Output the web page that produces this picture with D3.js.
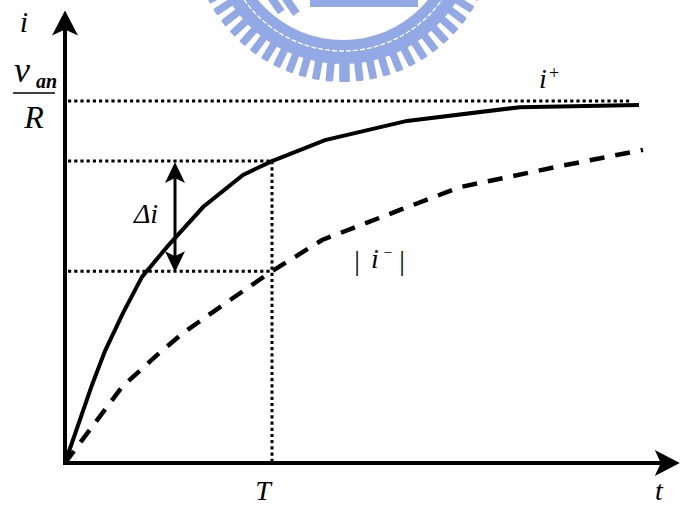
<!DOCTYPE html>
<html>
<head>
<meta charset="utf-8">
<script src="https://cdn.jsdelivr.net/npm/d3@7"></script>
<style>
  html, body { margin: 0; padding: 0; background: #fff; }
  svg { display: block; }
</style>
</head>
<body>
<svg id="chart" width="680" height="508"></svg>
<script>
// Normalised time (switching period T = 1) and current (v_an / R = 1)
const tPlus  = [0, 0.130, 0.193, 0.280, 0.372, 0.493, 0.667, 0.860, 1.000, 1.256, 1.652, 2.198, 2.773];
const iPlus  = [0, 0.215, 0.309, 0.414, 0.514, 0.597, 0.707, 0.796, 0.834, 0.892, 0.945, 0.983, 0.989];
const tMinus = [0, 0.275, 0.444, 0.570, 0.797, 1.000, 1.242, 1.618, 1.908, 2.391, 2.792];
const iMinus = [0, 0.210, 0.298, 0.359, 0.450, 0.530, 0.616, 0.699, 0.762, 0.820, 0.865];
const periodT = 1;       // T
const steadyI = 1;       // v_an / R
const tEnd = 2.97;       // end of the t axis
const iEnd = 1.25;       // end of the i axis

const SERIF = "Liberation Serif";

const svg = d3.select("#chart");

const x = d3.scaleLinear().domain([0, 1]).range([65, 272]);
const y = d3.scaleLinear().domain([0, 1]).range([463, 101]);

// ---- faint seal in the background ----
const defs = svg.append("defs");
defs.append("filter").attr("id", "soft")
  .append("feGaussianBlur").attr("stdDeviation", 0.7);

const seal = svg.append("g").attr("fill", "#93a9e6").attr("filter", "url(#soft)")
  .attr("transform", "translate(343,-70)");
seal.append("path")
  .attr("d", d3.arc()({ innerRadius: 110, outerRadius: 134, startAngle: 0, endAngle: 2 * Math.PI }));
seal.append("circle").attr("r", 121).attr("fill", "none")
  .attr("stroke", "#fff").attr("stroke-width", 1.3).attr("stroke-dasharray", "5,2");
d3.range(0, 360, 5.2).forEach(a => {
  seal.append("rect")
    .attr("x", -3.8).attr("y", 132).attr("width", 7.6).attr("height", 20).attr("rx", 1.2)
    .attr("transform", `rotate(${a})`);
});
seal.append("rect").attr("x", -33).attr("y", 50).attr("width", 108).attr("height", 27);
seal.append("rect").attr("x", -72).attr("y", 62).attr("width", 8).attr("height", 22)
  .attr("transform", "rotate(-35,-68,73)");
seal.append("rect").attr("x", -58).attr("y", 60).attr("width", 8).attr("height", 26)
  .attr("transform", "rotate(-35,-54,73)");

// ---- helpers ----
function arrowHead(tipX, tipY, angle, len, half, notch) {
  const pts = [[0, 0], [-len, -half], [-len + notch, 0], [-len, half]];
  svg.append("path")
    .attr("d", "M" + pts.map(p => p.join(",")).join("L") + "Z")
    .attr("transform", `translate(${tipX},${tipY}) rotate(${angle})`)
    .attr("fill", "#000");
}

function dottedLine(x1, y1, x2, y2) {
  svg.append("line").attr("x1", x1).attr("y1", y1).attr("x2", x2).attr("y2", y2)
    .attr("stroke", "#000").attr("stroke-width", 3).attr("stroke-dasharray", "3.2,3");
}

// ---- dotted guides ----
const iHi = iPlus[tPlus.indexOf(periodT)];
const iLo = iMinus[tMinus.indexOf(periodT)];

dottedLine(x(0) + 3, y(steadyI), 632, y(steadyI));
dottedLine(x(0) + 3, y(iHi), x(periodT), y(iHi));
dottedLine(x(0) + 3, y(iLo), x(periodT), y(iLo));
dottedLine(x(periodT), y(iHi), x(periodT), y(0) - 2);

// ---- curves ----
const line = d3.line().x(d => x(d[0])).y(d => y(d[1]));
svg.append("path")
  .attr("d", line(d3.zip(tPlus, iPlus)))
  .attr("fill", "none").attr("stroke", "#000").attr("stroke-width", 4);
svg.append("path")
  .attr("d", line(d3.zip(tMinus, iMinus)))
  .attr("fill", "none").attr("stroke", "#000").attr("stroke-width", 4.5)
  .attr("stroke-dasharray", "15,11");

// ---- axes ----
svg.append("line").attr("x1", x(0)).attr("x2", x(0)).attr("y1", y(0) + 2).attr("y2", y(iEnd) + 14)
  .attr("stroke", "#000").attr("stroke-width", 4);
arrowHead(x(0), y(iEnd), -90, 25, 13, 6);
svg.append("line").attr("x1", x(0) - 2).attr("x2", x(tEnd) - 14).attr("y1", y(0)).attr("y2", y(0))
  .attr("stroke", "#000").attr("stroke-width", 4);
arrowHead(x(tEnd), y(0), 0, 25, 13, 6);

// ---- delta-i double arrow ----
const ax = 175;
svg.append("line").attr("x1", ax).attr("x2", ax).attr("y1", y(iHi) + 12).attr("y2", y(iLo) - 12)
  .attr("stroke", "#000").attr("stroke-width", 3);
arrowHead(ax, y(iHi) + 1, -90, 21, 10, 5);
arrowHead(ax, y(iLo) + 1, 90, 21, 10, 5);

// ---- labels ----
function txt(s, xp, yp, size, anchor = "start", opts = {}) {
  return svg.append("text")
    .attr("x", xp).attr("y", yp)
    .style("font-family", SERIF)
    .style("font-style", opts.upright ? "normal" : "italic")
    .style("font-weight", opts.bold ? "bold" : "normal")
    .style("font-size", size + "px")
    .attr("text-anchor", anchor)
    .attr("fill", "#000")
    .text(s);
}
txt("i", 24, 32, 30, "middle");
txt("v", 14, 82, 36);
txt("an", 36, 88, 20, "start", { bold: true });
svg.append("line").attr("x1", 13).attr("x2", 55).attr("y1", 93).attr("y2", 93)
  .attr("stroke", "#000").attr("stroke-width", 1.5);
txt("R", 34, 128, 32, "middle");

txt("i", 543, 88, 28, "middle");
txt("+", 554, 79, 18, "middle", { upright: true });

txt("|", 357, 270, 28, "middle", { upright: true });
txt("i", 375, 268, 28, "middle");
txt("\u2013", 388, 256, 14, "middle", { upright: true });
txt("|", 402, 270, 28, "middle", { upright: true });

txt("\u0394i", 146, 223, 28, "middle");

txt("T", x(periodT) - 9, 500, 28, "middle");
txt("t", 659, 500, 28, "middle");
</script>
</body>
</html>
